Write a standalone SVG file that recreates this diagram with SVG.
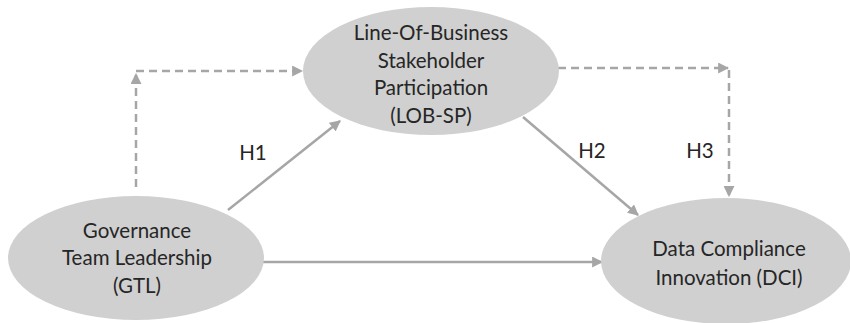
<svg xmlns="http://www.w3.org/2000/svg" width="850" height="323" viewBox="0 0 850 323">
<defs>
<marker id="ah" viewBox="0 0 10 10" refX="9" refY="5" markerWidth="4.4" markerHeight="4.4" orient="auto" markerUnits="strokeWidth">
<path d="M0,0 L10,5 L0,10 z" fill="#a6a6a6"/>
</marker>
</defs>
<style>
.node{fill:#d0d0d0;stroke:none}
.t{font-family:Lato,"Open Sans",sans-serif;font-size:20.5px;fill:#262626;text-anchor:middle;dominant-baseline:central}
.c{stroke:#a6a6a6;stroke-width:2.5;fill:none}
.d{stroke-dasharray:8 5}
</style>
<rect width="850" height="323" fill="#ffffff"/>
<g id="connectors">
<line class="c d" x1="136" y1="187" x2="136" y2="74" marker-end="url(#ah)"/>
<line class="c d" x1="136" y1="71" x2="302" y2="71" marker-end="url(#ah)"/>
<line class="c d" x1="558" y1="68" x2="728" y2="68" marker-end="url(#ah)"/>
<line class="c d" x1="729" y1="70" x2="729" y2="196" marker-end="url(#ah)"/>
<line class="c" x1="228" y1="210" x2="340" y2="121" marker-end="url(#ah)"/>
<line class="c" x1="523" y1="117" x2="638" y2="215" marker-end="url(#ah)"/>
<line class="c" x1="263" y1="262" x2="602" y2="262" marker-end="url(#ah)"/>
<text class="t" x="253" y="152">H1</text>
<text class="t" x="592" y="150">H2</text>
<text class="t" x="700" y="150">H3</text>
</g>
<g id="gtl">
<ellipse class="node" cx="136" cy="258" rx="128" ry="62"/>
<text class="t" x="137" y="230">Governance</text>
<text class="t" x="137" y="257">Team Leadership</text>
<text class="t" x="137" y="285">(GTL)</text>
</g>
<g id="lobsp">
<ellipse class="node" cx="431" cy="71" rx="128" ry="64"/>
<text class="t" x="431" y="32">Line-Of-Business</text>
<text class="t" x="431" y="60">Stakeholder</text>
<text class="t" x="431" y="87">Participation</text>
<text class="t" x="431" y="115">(LOB-SP)</text>
</g>
<g id="dci">
<ellipse class="node" cx="726" cy="261" rx="125" ry="63"/>
<text class="t" x="729" y="248">Data Compliance</text>
<text class="t" x="729" y="277">Innovation (DCI)</text>
</g>
</svg>
